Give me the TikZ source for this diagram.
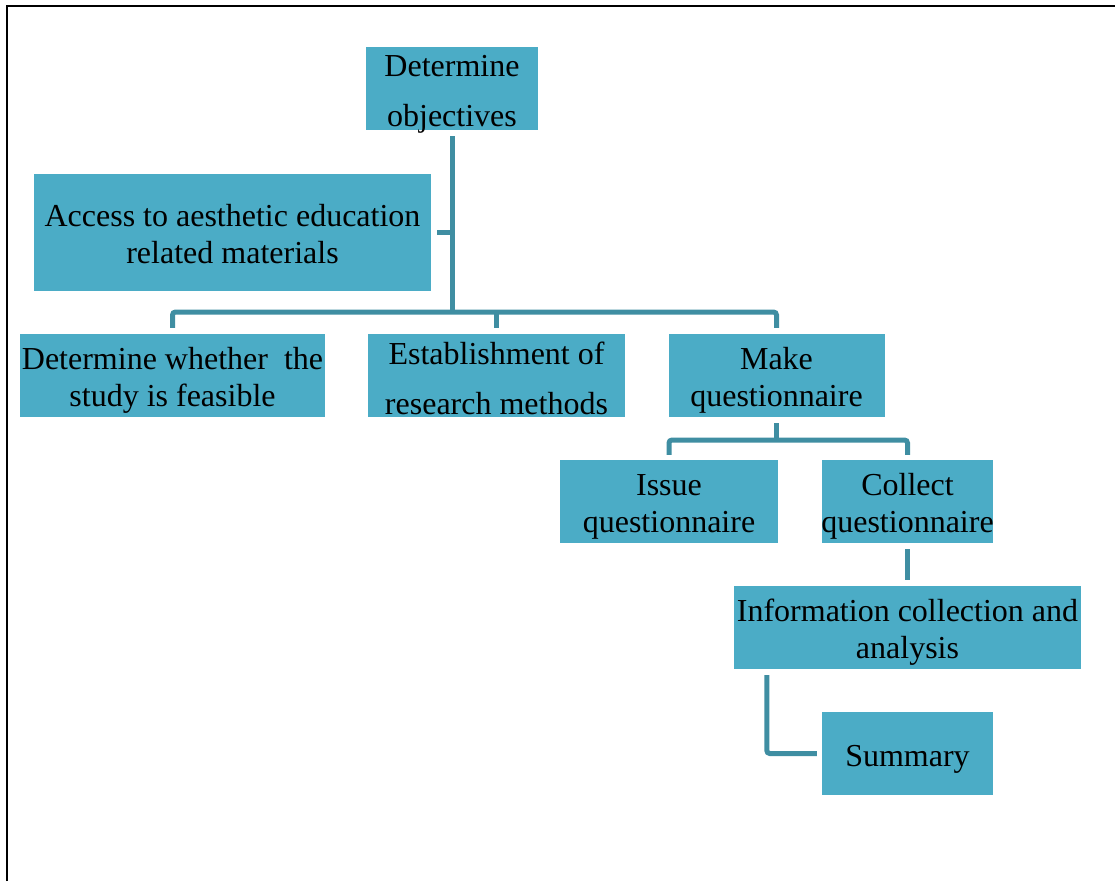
\documentclass[tikz,border=0pt]{standalone}
\usepackage{fontspec}
\setmainfont{Liberation Serif}
\usetikzlibrary{calc}
\definecolor{boxfill}{HTML}{4BACC6}
\definecolor{linkc}{HTML}{3F8EA2}
\begin{document}
\begin{tikzpicture}[x=1pt,y=-1pt,
  stepbox/.style={fill=boxfill, draw=none, inner sep=0pt},
  steptext/.style={inner sep=0pt, align=center, text=black,
    font=\fontsize{32}{37}\selectfont, yshift=-5pt},
  widespaced/.style={font=\fontsize{32}{50}\selectfont},
  link/.style={draw=linkc, line width=5pt, rounded corners=3pt},
]
\useasboundingbox (0,0) rectangle (1115,881);
% page frame (top and left edges only)
\draw[line width=2.5pt] (7,881) -- (7,6) -- (1115,6);

% steps
\node[stepbox, minimum width=172pt, minimum height=83pt,
  label={[steptext, widespaced, yshift=-1pt]center:Determine\\objectives}] (obj) at (452,88.5) {};
\node[stepbox, minimum width=397pt, minimum height=117pt,
  label={[steptext, yshift=3pt]center:Access to aesthetic education\\related materials}] (acc) at (232.5,232.5) {};
\node[stepbox, minimum width=305pt, minimum height=83pt,
  label={[steptext]center:Determine whether~ the\\study is feasible}] (feas) at (172.5,375.5) {};
\node[stepbox, minimum width=257pt, minimum height=83pt,
  label={[steptext, widespaced, yshift=2pt]center:Establishment of\\research methods}] (meth) at (496.5,375.5) {};
\node[stepbox, minimum width=216pt, minimum height=83pt,
  label={[steptext]center:Make\\questionnaire}] (make) at (776.5,375.5) {};
\node[stepbox, minimum width=218pt, minimum height=83pt,
  label={[steptext]center:Issue\\questionnaire}] (issue) at (669,501.5) {};
\node[stepbox, minimum width=171pt, minimum height=83pt,
  label={[steptext]center:Collect\\questionnaire}] (coll) at (907.5,501.5) {};
\node[stepbox, minimum width=347pt, minimum height=83pt,
  label={[steptext]center:Information collection and\\analysis}] (info) at (907.5,627.5) {};
\node[stepbox, minimum width=171pt, minimum height=83pt,
  label={[steptext, yshift=-1pt]center:Summary}] (summ) at (907.5,753.5) {};

% connectors
\coordinate (bus) at (452,312);
\coordinate (bus2) at (777,440);
\draw[link] ([yshift=-6pt]obj.south) -- (bus);
\draw[link] ([xshift=6pt]acc.east) -- (acc.east -| bus);
\draw[link] ([yshift=6pt]feas.north) -- (feas.north |- bus) -- (make.north |- bus) -- ([yshift=6pt]make.north);
\draw[link] ([yshift=6pt]meth.north) -- (meth.north |- bus);
\draw[link] ([yshift=-6pt]make.south) -- (make.south |- bus2);
\draw[link] ([yshift=5pt]issue.north) -- (issue.north |- bus2) -- (coll.north |- bus2) -- ([yshift=5pt]coll.north);
\draw[link] ([yshift=-6pt]coll.south) -- ([yshift=6pt]info.north);
\draw[link] ([xshift=33pt,yshift=-6pt]info.south west) |- ([xshift=-5pt]summ.west);
\end{tikzpicture}
\end{document}
